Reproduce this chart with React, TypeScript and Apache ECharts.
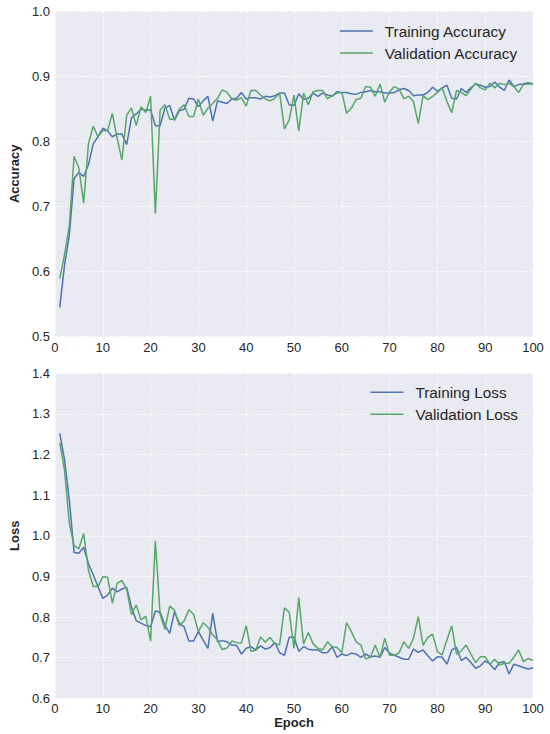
import React, { useEffect, useRef } from "react";
import * as echarts from "echarts";

const epochs: number[] = Array.from({ length: 100 }, (_, i) => i + 1);

const trainAcc: number[] = [
  0.545, 0.61, 0.656, 0.743, 0.752, 0.746, 0.764, 0.796, 0.807, 0.82,
  0.816, 0.807, 0.811, 0.811, 0.795, 0.836, 0.842, 0.849, 0.848, 0.848,
  0.824, 0.824, 0.851, 0.855, 0.832, 0.847, 0.849, 0.866, 0.865, 0.853,
  0.862, 0.869, 0.831, 0.862, 0.86, 0.858, 0.865, 0.866, 0.875, 0.865,
  0.867, 0.867, 0.865, 0.869, 0.868, 0.87, 0.874, 0.874, 0.856, 0.855,
  0.873, 0.864, 0.866, 0.874, 0.869, 0.874, 0.871, 0.869, 0.876, 0.875,
  0.875, 0.873, 0.872, 0.875, 0.876, 0.878, 0.876, 0.876, 0.874, 0.874,
  0.875, 0.879, 0.881, 0.878, 0.87, 0.871, 0.871, 0.875, 0.883, 0.877,
  0.882, 0.886, 0.866, 0.865, 0.881, 0.875, 0.882, 0.888, 0.886, 0.883,
  0.884, 0.891, 0.883, 0.878, 0.894, 0.884, 0.887, 0.888, 0.89, 0.888,
];

const valAcc: number[] = [
  0.589, 0.626, 0.67, 0.777, 0.759, 0.705, 0.796, 0.823, 0.807, 0.816,
  0.816, 0.843, 0.805, 0.771, 0.84, 0.851, 0.824, 0.853, 0.844, 0.869,
  0.689, 0.848, 0.856, 0.834, 0.834, 0.849, 0.856, 0.838, 0.838, 0.865,
  0.84, 0.851, 0.858, 0.866, 0.879, 0.875, 0.865, 0.863, 0.867, 0.854,
  0.878, 0.878, 0.871, 0.865, 0.862, 0.866, 0.874, 0.819, 0.833, 0.871,
  0.816, 0.874, 0.856, 0.876, 0.878, 0.878, 0.865, 0.87, 0.874, 0.875,
  0.843, 0.851, 0.864, 0.866, 0.884, 0.883, 0.869, 0.888, 0.86, 0.876,
  0.884, 0.88, 0.865, 0.869, 0.861, 0.827, 0.87, 0.864, 0.869, 0.875,
  0.882, 0.861, 0.844, 0.878, 0.875, 0.87, 0.88, 0.889, 0.882, 0.879,
  0.889, 0.882, 0.889, 0.887, 0.889, 0.884, 0.875, 0.887, 0.888, 0.888,
];

const trainLoss: number[] = [
  1.252, 1.187, 1.088, 0.959, 0.957, 0.972, 0.932, 0.904, 0.875, 0.846,
  0.854, 0.871, 0.862, 0.869, 0.873, 0.825, 0.791, 0.785, 0.779, 0.776,
  0.815, 0.812, 0.78, 0.76, 0.813, 0.785, 0.776, 0.741, 0.741, 0.764,
  0.743, 0.723, 0.809, 0.739, 0.742, 0.739, 0.731, 0.73, 0.709, 0.723,
  0.727, 0.719, 0.729, 0.721, 0.725, 0.737, 0.712, 0.706, 0.75, 0.75,
  0.716, 0.727, 0.721, 0.719, 0.719, 0.712, 0.713, 0.727, 0.701, 0.709,
  0.705, 0.711, 0.709, 0.701, 0.709, 0.702, 0.704, 0.701, 0.725, 0.711,
  0.706, 0.701, 0.696, 0.696, 0.721, 0.713, 0.719, 0.705, 0.692, 0.702,
  0.701, 0.684, 0.719, 0.725, 0.693, 0.701, 0.688, 0.674, 0.68, 0.692,
  0.684, 0.671, 0.688, 0.69, 0.66, 0.684, 0.68, 0.676, 0.672, 0.675,
];

const valLoss: number[] = [
  1.229, 1.162, 1.031, 0.976, 0.968, 1.006, 0.916, 0.875, 0.875, 0.899,
  0.898, 0.834, 0.883, 0.89, 0.869, 0.806, 0.83, 0.793, 0.802, 0.741,
  0.988, 0.806, 0.77, 0.827, 0.817, 0.779, 0.79, 0.818, 0.807, 0.764,
  0.786, 0.775, 0.756, 0.744, 0.72, 0.724, 0.741, 0.737, 0.736, 0.779,
  0.716, 0.718, 0.751, 0.738, 0.75, 0.734, 0.732, 0.823, 0.812, 0.723,
  0.848, 0.734, 0.762, 0.734, 0.723, 0.719, 0.739, 0.727, 0.725, 0.712,
  0.786, 0.764, 0.739, 0.731, 0.697, 0.701, 0.731, 0.701, 0.748, 0.706,
  0.706, 0.712, 0.739, 0.723, 0.748, 0.801, 0.73, 0.75, 0.758, 0.715,
  0.707, 0.744, 0.778, 0.709, 0.717, 0.731, 0.709, 0.688, 0.702, 0.702,
  0.684, 0.696, 0.682, 0.686, 0.686, 0.701, 0.719, 0.69, 0.698, 0.693,
];

const accLegend: string[] = ["Training Accuracy", "Validation Accuracy"];
const lossLegend: string[] = ["Training Loss", "Validation Loss"];

const FONT = "'Liberation Sans', Arial, Helvetica, sans-serif";
const BLUE = "#4C72B0";
const GREEN = "#55A868";
const TXT = "#262626";
// horizontal line icon inside a 33x14 box (tiny corner specks keep the box size)
const LINE_ICON =
  "path://M0,0h0.01v0.01h-0.01Z M0,6.25h33v1.5h-33Z M32.99,13.99h0.01v0.01h-0.01Z";

const pairs = (vals: number[]) => epochs.map((e, i) => [e, vals[i]]);

export default function App() {
  const ref = useRef<HTMLDivElement>(null);

  useEffect(() => {
    if (!ref.current) return;
    const chart = echarts.init(ref.current, undefined, { renderer: "svg" });

    const splitLine = {
      show: true,
      lineStyle: { color: "#ffffff", width: 0.8, type: [3, 2] as any },
    };
    const xAxisBase = {
      type: "value" as const,
      min: 0,
      max: 100,
      interval: 10,
      axisLine: { show: false },
      axisTick: { show: false },
      splitLine,
      axisLabel: { color: TXT, fontSize: 13, fontFamily: FONT, margin: 4 },
    };
    const yAxisBase = {
      type: "value" as const,
      interval: 0.1,
      axisLine: { show: false },
      axisTick: { show: false },
      splitLine,
      axisLabel: {
        color: TXT,
        fontSize: 13,
        fontFamily: FONT,
        margin: 5,
        formatter: (v: number) => v.toFixed(1),
      },
      nameLocation: "middle" as const,
      nameGap: 27,
      nameTextStyle: { color: TXT, fontSize: 13, fontWeight: "bold" as const, fontFamily: FONT },
    };
    const legendBase = {
      orient: "vertical" as const,
      right: 32,
      padding: 0,
      itemWidth: 33,
      itemHeight: 14,
      itemGap: 7,
      icon: LINE_ICON,
      textStyle: {
        color: TXT,
        fontSize: 15.3,
        fontFamily: FONT,
        lineHeight: 15,
        padding: [0, 0, 0, 7],
      },
    };
    const lineSeries = (name: string, color: string, idx: number, vals: number[]) => ({
      name,
      type: "line" as const,
      xAxisIndex: idx,
      yAxisIndex: idx,
      data: pairs(vals),
      symbol: "none",
      showSymbol: false,
      lineStyle: { color, width: 1.5 },
      itemStyle: { color },
    });

    chart.setOption({
      animation: false,
      backgroundColor: "#ffffff",
      grid: [
        { left: 45.7, right: 17, top: 11, bottom: 397.3, show: true, backgroundColor: "#EAEAF2", borderWidth: 0 },
        { left: 45.7, right: 17, top: 373.3, bottom: 35.7, show: true, backgroundColor: "#EAEAF2", borderWidth: 0 },
      ],
      xAxis: [
        { ...xAxisBase, gridIndex: 0 },
        {
          ...xAxisBase,
          gridIndex: 1,
          name: "Epoch",
          nameLocation: "middle",
          nameGap: 18,
          nameTextStyle: { color: TXT, fontSize: 13, fontWeight: "bold", fontFamily: FONT, verticalAlign: "top" },
        },
      ],
      yAxis: [
        { ...yAxisBase, gridIndex: 0, min: 0.5, max: 1.0, name: "Accuracy" },
        { ...yAxisBase, gridIndex: 1, min: 0.6, max: 1.4, name: "Loss" },
      ],
      legend: [
        { ...legendBase, top: 23.5, data: accLegend },
        { ...legendBase, top: 384.8, data: lossLegend },
      ],
      series: [
        lineSeries(accLegend[0], BLUE, 0, trainAcc),
        lineSeries(accLegend[1], GREEN, 0, valAcc),
        lineSeries(lossLegend[0], BLUE, 1, trainLoss),
        lineSeries(lossLegend[1], GREEN, 1, valLoss),
      ],
    });

    return () => chart.dispose();
  }, []);

  return (
    <div
      ref={ref}
      style={{ position: "fixed", left: 0, top: 0, width: 550, height: 734, background: "#fff" }}
    />
  );
}
